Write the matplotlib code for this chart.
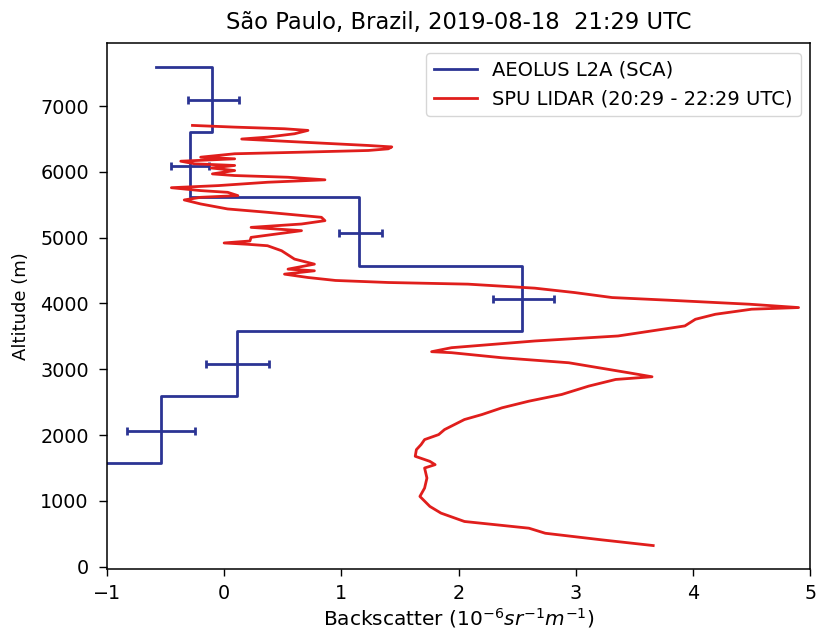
import matplotlib
matplotlib.use("Agg")
import matplotlib.pyplot as plt
import numpy as np

# AEOLUS L2A (SCA) profile: bin edges (m) and backscatter per bin
aeolus_edges = [1570, 2591, 3582, 4573, 5614, 6605, 7600]
aeolus_values = [-0.54, 0.11, 2.54, 1.15, -0.29, -0.10]
aeolus_below = -1.05   # value of the (off-scale) bin below
aeolus_above = -0.58   # value of the bin above
err_alt = [2058, 3079, 4070, 5076, 6087, 7088]
err_center = [-0.535, 0.115, 2.55, 1.165, -0.29, -0.09]
err_half = [0.29, 0.27, 0.26, 0.185, 0.16, 0.22]

# SPU LIDAR profile
lidar_alt = [320, 407, 507, 584, 686, 813, 915, 1067, 1194, 1346, 1499, 1550,
             1600, 1677, 1778, 1855, 1931, 2007, 2083, 2236, 2312, 2414, 2515,
             2617, 2744, 2845, 2886, 2947, 3099, 3175, 3252, 3267, 3328, 3430,
             3506, 3659, 3760, 3836, 3913, 3938, 3989, 4050, 4090, 4166, 4233,
             4294, 4319, 4350, 4395, 4446, 4497, 4522, 4598, 4675, 4802, 4878,
             4900, 4920, 4950, 5005, 5107, 5157, 5208, 5259, 5310, 5386, 5437,
             5513, 5574, 5614, 5640, 5690, 5716, 5760, 5792, 5843, 5880, 5919,
             5945, 5970, 6021, 6060, 6098, 6123, 6163, 6199, 6224, 6276, 6300,
             6326, 6351, 6380, 6402, 6453, 6500, 6529, 6580, 6631, 6656, 6681,
             6707]
lidar_bsc = [3.66, 3.22, 2.74, 2.60, 2.05, 1.85, 1.755, 1.67, 1.71, 1.73, 1.71,
             1.80, 1.755, 1.63, 1.64, 1.68, 1.71, 1.83, 1.88, 2.05, 2.20, 2.37,
             2.60, 2.88, 3.11, 3.34, 3.65, 3.45, 2.94, 2.37, 1.94, 1.77, 1.94,
             2.65, 3.36, 3.93, 4.02, 4.19, 4.50, 4.90, 4.48, 3.79, 3.31, 2.99,
             2.65, 2.08, 1.40, 0.95, 0.715, 0.515, 0.77, 0.545, 0.77, 0.60, 0.49,
             0.37, 0.20, 0.00, 0.22, 0.23, 0.66, 0.23, 0.66, 0.86, 0.83, 0.37,
             0.03, -0.20, -0.34, -0.20, 0.117, 0.03, -0.20, -0.45, -0.05, 0.37,
             0.86, 0.545, 0.09, -0.10, 0.09, -0.11, 0.09, -0.25, -0.37, 0.09,
             -0.20, 0.09, 0.66, 1.23, 1.40, 1.43, 1.23, 0.66, 0.15, 0.37, 0.60,
             0.715, 0.515, 0.09, -0.27]

title = "São Paulo, Brazil, 2019-08-18  21:29 UTC"
blue = "#2b3494"
red = "#e01e1c"

# build step path
sx = [aeolus_below]
sy = [aeolus_edges[0]]
for i, v in enumerate(aeolus_values):
    sx += [v, v]
    sy += [aeolus_edges[i], aeolus_edges[i + 1]]
sx.append(aeolus_above)
sy.append(aeolus_edges[-1])

fig = plt.figure(figsize=(8.16, 6.36), dpi=100)
ax = fig.add_axes([0.131, 0.106, 0.862, 0.826])

ax.plot(sx, sy, color=blue, lw=2.0, label="AEOLUS L2A (SCA)")
ax.errorbar(err_center, err_alt, xerr=err_half, fmt='none', ecolor=blue,
            elinewidth=2.0, capsize=3, capthick=2.0)
ax.plot(lidar_bsc, lidar_alt, color=red, lw=2.0, label="SPU LIDAR (20:29 - 22:29 UTC)")

ax.set_xlim(-1, 5)
ax.set_ylim(-30, 7956)
ax.set_xticks(range(-1, 6))
ax.set_yticks(range(0, 8000, 1000))
ax.tick_params(axis='x', labelsize=13.8, length=5, width=1.0, pad=6)
ax.tick_params(axis='y', labelsize=13.8, length=6, width=1.0, pad=7)
ax.set_xlabel(r"Backscatter ($10^{-6}sr^{-1}m^{-1}$)", fontsize=14.5, labelpad=2)
ax.set_ylabel("Altitude (m)", fontsize=13, labelpad=7)
ax.set_title(title, fontsize=16.3, pad=10)
for s in ax.spines.values():
    s.set_linewidth(1.1)
ax.legend(loc="upper right", fontsize=14, handlelength=2.2)

fig.savefig("out.png", dpi=100)
